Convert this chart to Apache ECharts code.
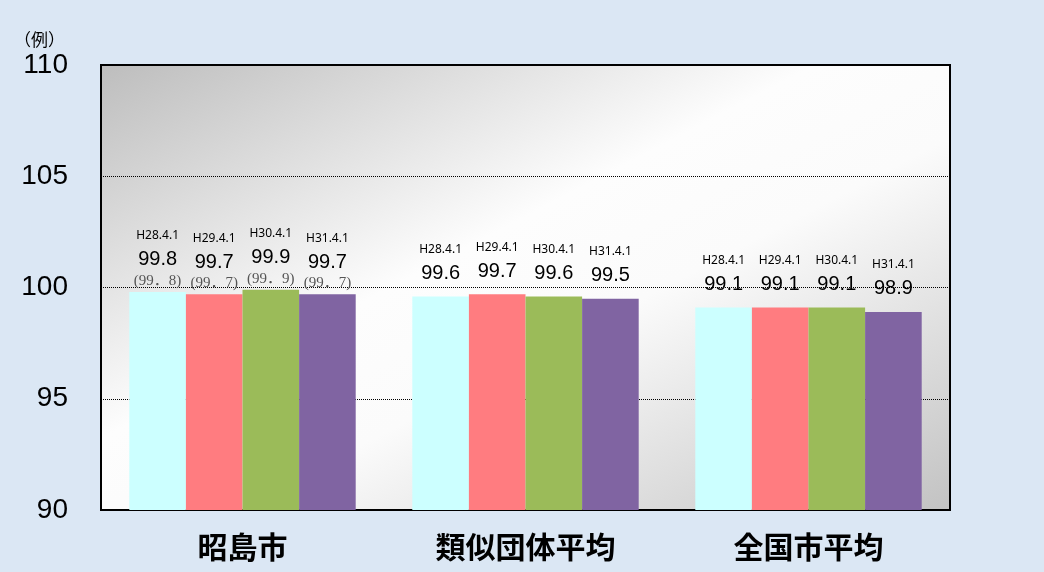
<!DOCTYPE html>
<html>
<head>
<meta charset="utf-8">
<script src="https://cdn.jsdelivr.net/npm/echarts@6/dist/echarts.min.js"></script>
<style>
  html, body { margin: 0; padding: 0; background: #dbe7f4; }
  #chart { width: 1044px; height: 572px; }
</style>
</head>
<body>
<div id="chart"></div>
<script>
// 区分（横軸）
const categories = ['昭島市', '類似団体平均', '全国市平均'];
// 年度ラベル
const dates = ['H28.4.1', 'H29.4.1', 'H30.4.1', 'H31.4.1'];
// 各年度の値（昭島市, 類似団体平均, 全国市平均）
const h28 = [99.8, 99.6, 99.1];
const h29 = [99.7, 99.7, 99.1];
const h30 = [99.9, 99.6, 99.1];
const h31 = [99.7, 99.5, 98.9];
// 昭島市の括弧内の値
const akishimaParen = [99.8, 99.7, 99.9, 99.7];
// 縦軸
const yMin = 90;
const yMax = 110;
const yStep = 5;

const colors = ['#ccffff', '#ff7c80', '#9bbb59', '#8064a2'];
const allValues = [h28, h29, h30, h31];

const series = allValues.map((vals, i) => ({
  name: dates[i],
  type: 'bar',
  barGap: 0,
  barCategoryGap: '20%',
  itemStyle: { color: colors[i] },
  data: vals.map((v, j) => ({
    value: v,
    label: { distance: j === 0 ? 1 : 12 }
  })),
  label: {
    show: true,
    position: 'top',
    color: '#000',
    formatter: p => {
      let s = '{h|' + dates[i] + '}\n{v|' + p.value.toFixed(1) + '}';
      if (p.dataIndex === 0) {
        s += '\n{p|(' + akishimaParen[i].toFixed(1).replace('.', '．') + ')}';
      }
      return s;
    },
    rich: {
      h: { fontSize: 12, lineHeight: 26, fontFamily: 'Noto Sans', color: '#000' },
      v: { fontSize: 20, lineHeight: 22, fontFamily: 'Liberation Sans', color: '#000' },
      p: { fontSize: 15, lineHeight: 20, fontFamily: 'Liberation Serif, Noto Sans CJK JP', color: '#555' }
    }
  }
}));

const chart = echarts.init(document.getElementById('chart'));
chart.setOption({
  backgroundColor: '#dbe7f4',
  animation: false,
  grid: {
    left: 101, right: 94, top: 65, bottom: 62,
    show: true,
    borderColor: '#000',
    borderWidth: 2,
    // 左上と右下が灰色、右上～左下の対角線が白
    backgroundColor: new echarts.graphic.LinearGradient(0, 0, 0.431, 1.569, [
      { offset: 0, color: '#bdbdbd' },
      { offset: 0.42, color: '#fdfdfd' },
      { offset: 0.58, color: '#fbfbfb' },
      { offset: 1, color: '#c2c2c2' }
    ])
  },
  graphic: [{
    type: 'text',
    left: 14,
    top: 31,
    style: { text: '（例）', fontSize: 17, fontFamily: 'Noto Sans CJK JP', fill: '#000' }
  }],
  xAxis: {
    type: 'category',
    data: categories,
    axisTick: { show: false },
    axisLine: { lineStyle: { color: '#000', width: 2 } },
    axisLabel: {
      margin: 22,
      fontSize: 30,
      fontWeight: 'bold',
      fontFamily: 'Noto Sans CJK JP',
      color: '#000'
    }
  },
  yAxis: {
    type: 'value',
    min: yMin,
    max: yMax,
    interval: yStep,
    axisLine: { show: false },
    axisTick: { show: false },
    axisLabel: {
      margin: 33,
      fontSize: 28,
      fontFamily: 'Liberation Sans',
      color: '#000'
    },
    splitLine: { lineStyle: { color: '#000', type: 'dotted', width: 1 } }
  },
  series
});
</script>
</body>
</html>
